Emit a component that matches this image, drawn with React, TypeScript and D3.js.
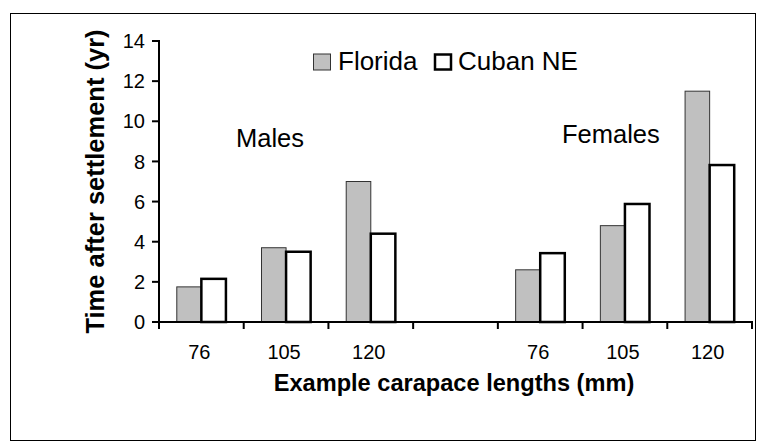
import React from "react";
import * as d3 from "d3";

const categories = ["76", "105", "120", "", "76", "105", "120"];
const florida: (number | null)[] = [1.75, 3.7, 7.0, null, 2.6, 4.8, 11.5];
const cubanNE: (number | null)[] = [2.15, 3.5, 4.4, null, 3.43, 5.88, 7.82];
const yTicks = [0, 2, 4, 6, 8, 10, 12, 14];
const seriesNames = ["Florida", "Cuban NE"];
const groupLabels = [
  { text: "Males", x: 236, y: 147 },
  { text: "Females", x: 562, y: 143 },
];

const W = 761;
const H = 445;
const FONT = "'Liberation Sans', Arial, sans-serif";

export default function App() {
  const x = d3
    .scaleBand<number>()
    .domain(categories.map((_, i) => i))
    .range([159, 752])
    .paddingInner(0)
    .paddingOuter(0);
  const y = d3.scaleLinear().domain([0, 14]).range([322, 41]);
  const bw = x.bandwidth();
  const barW = bw * 0.29;
  const boundaries = d3.range(categories.length + 1).map((i) => 159 + i * bw);

  return (
    <div style={{ position: "fixed", left: 0, top: 0 }}>
      <svg width={W} height={H} style={{ display: "block", fontFamily: FONT }}>
        <rect x={0} y={0} width={W} height={H} fill="#fff" />
        <rect x={10.5} y={13.5} width={745} height={427} fill="none" stroke="#000" strokeWidth={1} />

        {/* bars */}
        {categories.map((_, i) => {
          const cx = (x(i) as number) + bw / 2;
          const f = florida[i];
          const c = cubanNE[i];
          return (
            <g key={i}>
              {f != null && (
                <rect
                  x={cx - barW}
                  y={y(f)}
                  width={barW}
                  height={y(0) - y(f)}
                  fill="#C0C0C0"
                  stroke="#333"
                  strokeWidth={1}
                />
              )}
              {c != null && (
                <rect
                  x={cx}
                  y={y(c)}
                  width={barW}
                  height={y(0) - y(c)}
                  fill="#fff"
                  stroke="#000"
                  strokeWidth={2.5}
                />
              )}
            </g>
          );
        })}

        {/* y axis */}
        <line x1={159} y1={y(14) - 1} x2={159} y2={y(0) + 1} stroke="#000" strokeWidth={2} />
        {yTicks.map((t) => (
          <g key={t}>
            <line x1={152} x2={159} y1={y(t)} y2={y(t)} stroke="#000" strokeWidth={2} />
            <text
              x={145}
              y={y(t)}
              dy="0.36em"
              textAnchor="end"
              fontSize={20}
              fill="#000"
            >
              {t}
            </text>
          </g>
        ))}

        {/* x axis */}
        <line x1={158} y1={y(0)} x2={753} y2={y(0)} stroke="#000" strokeWidth={2} />
        {boundaries.map((b, i) => (
          <line key={i} x1={b} x2={b} y1={y(0)} y2={y(0) + 7} stroke="#000" strokeWidth={2} />
        ))}
        {categories.map((c, i) => (
          <text
            key={i}
            x={(x(i) as number) + bw / 2 - 2}
            y={359}
            textAnchor="middle"
            fontSize={20}
            fill="#000"
          >
            {c}
          </text>
        ))}

        {/* axis titles */}
        <text
          x={454}
          y={391}
          textAnchor="middle"
          fontSize={23.6}
          fontWeight="bold"
          fill="#000"
        >
          Example carapace lengths (mm)
        </text>
        <text
          transform={`translate(104, 181.5) rotate(-90)`}
          textAnchor="middle"
          fontSize={25.5}
          fontWeight="bold"
          fill="#000"
        >
          Time after settlement (yr)
        </text>

        {/* group labels */}
        {groupLabels.map((g) => (
          <text key={g.text} x={g.x} y={g.y} fontSize={25.5} fill="#000">
            {g.text}
          </text>
        ))}

        {/* legend */}
        <rect x={313.5} y={54} width={17} height={16} fill="#C0C0C0" stroke="#333" strokeWidth={1} />
        <text x={338} y={70} fontSize={26} fill="#000">
          {seriesNames[0]}
        </text>
        <rect x={435} y={54.5} width={16} height={15} fill="#fff" stroke="#000" strokeWidth={2.5} />
        <text x={458} y={70} fontSize={26} fill="#000">
          {seriesNames[1]}
        </text>
      </svg>
    </div>
  );
}
